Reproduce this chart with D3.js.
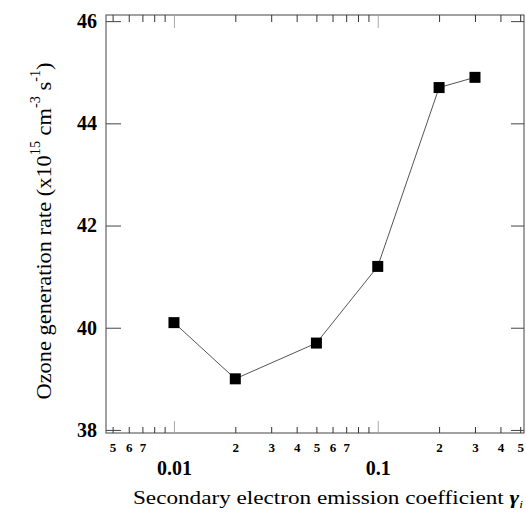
<!DOCTYPE html>
<meta charset="utf-8">
<html>
<head>
    <script src="https://d3js.org/d3.v7.min.js"></script>
    <style>
        body { margin: 0; background: #fff; }
        svg text { font-family: "Liberation Serif", "Times New Roman", Times, serif !important; }
    </style>
</head>
<body>
    <div id="chart"></div>
    <script>
        // data
        const gamma = [0.01, 0.02, 0.05, 0.1, 0.2, 0.3];
        const ozone = [40.1, 39.0, 39.7, 41.2, 44.7, 44.9];

        const yTicks = [38, 40, 42, 44, 46];
        const majorTicks = [0.01, 0.1];
        const minorTicks = [0.005, 0.006, 0.007, 0.008, 0.009,
            0.02, 0.03, 0.04, 0.05, 0.06, 0.07, 0.08, 0.09,
            0.2, 0.3, 0.4, 0.5];
        const minorLabels = { 0.005: "5", 0.006: "6", 0.007: "7", 0.02: "2", 0.03: "3", 0.04: "4",
            0.05: "5", 0.06: "6", 0.07: "7", 0.2: "2", 0.3: "3", 0.4: "4", 0.5: "5" };

        const W = 526, H = 517;
        const margin = { top: 15, right: 2, bottom: 84, left: 106 },
            width = W - margin.left - margin.right,
            height = H - margin.top - margin.bottom;
        const serif = '"Liberation Serif", "Times New Roman", Times, serif';

        const svg = d3.select("#chart").append("svg")
            .attr("width", W).attr("height", H)
            .append("g")
            .attr("transform", `translate(${margin.left},${margin.top})`);

        const x = d3.scaleLog().domain([0.00464, 0.522]).range([0, width]);
        const y = d3.scaleLinear().domain([37.94, 46.12]).range([height, 0]);

        const data = gamma.map((g, i) => ({ g: g, v: ozone[i] }));

        // frame
        svg.append("rect")
            .attr("width", width).attr("height", height)
            .attr("fill", "none").attr("stroke", "#444").attr("stroke-width", 1);

        function styleAxis(g, color) {
            g.attr("font-family", serif);
            g.select(".domain").remove();
            g.selectAll(".tick line").attr("stroke", color);
        }

        // minor x ticks bottom with small labels
        svg.append("g")
            .attr("transform", `translate(0,${height})`)
            .call(d3.axisBottom(x).tickValues(minorTicks).tickSize(-6).tickPadding(10)
                .tickFormat(d => minorLabels[d] || ""))
            .call(g => styleAxis(g, "#333"))
            .call(g => g.selectAll("text")
                .style("font-size", "13px").style("font-weight", "bold").attr("fill", "#000"));

        // major x ticks bottom
        svg.append("g")
            .attr("transform", `translate(0,${height})`)
            .call(d3.axisBottom(x).tickValues(majorTicks).tickSize(-12).tickPadding(28)
                .tickFormat(d => d === 0.01 ? "0.01" : "0.1"))
            .call(g => styleAxis(g, "#aaa"))
            .call(g => g.selectAll("text")
                .style("font-size", "20px").style("font-weight", "bold").attr("fill", "#000"));

        // top mirrored ticks
        svg.append("g")
            .call(d3.axisTop(x).tickValues(minorTicks).tickSize(-7).tickFormat(""))
            .call(g => styleAxis(g, "#333"));
        svg.append("g")
            .call(d3.axisTop(x).tickValues(majorTicks).tickSize(-13).tickFormat(""))
            .call(g => styleAxis(g, "#aaa"));

        // y axis left
        svg.append("g")
            .call(d3.axisLeft(y).tickValues(yTicks).tickSize(-15).tickPadding(9).tickFormat(d3.format("d")))
            .call(g => styleAxis(g, "#444"))
            .call(g => g.selectAll("text")
                .style("font-size", "20px").style("font-weight", "bold").attr("fill", "#000"));

        // y axis right
        svg.append("g")
            .attr("transform", `translate(${width},0)`)
            .call(d3.axisRight(y).tickValues(yTicks).tickSize(-13).tickFormat(""))
            .call(g => styleAxis(g, "#444"));

        // connecting line
        const line = d3.line().x(d => x(d.g)).y(d => y(d.v));
        svg.append("path")
            .datum(data)
            .attr("d", line)
            .attr("fill", "none")
            .attr("stroke", "#555")
            .attr("stroke-width", 1);

        // square markers
        svg.selectAll("rect.pt").data(data).enter().append("rect")
            .attr("class", "pt")
            .attr("x", d => x(d.g) - 5.5)
            .attr("y", d => y(d.v) - 5.5)
            .attr("width", 11).attr("height", 11)
            .attr("fill", "#000");

        // x axis title (the original looks stretched sideways)
        const xt = svg.append("text")
            .attr("x", 222)
            .attr("y", height + 71)
            .attr("text-anchor", "middle")
            .attr("textLength", 390)
            .attr("lengthAdjust", "spacingAndGlyphs")
            .style("font-family", serif)
            .style("font-size", "19px")
            .attr("fill", "#000");
        xt.append("tspan").text("Secondary electron emission coefficient ");
        xt.append("tspan").style("font-style", "italic").style("font-weight", "bold").text("γ");
        xt.append("tspan").style("font-style", "italic").style("font-size", "11px").attr("dy", 4).text("i");

        // y axis title
        const yt = svg.append("text")
            .attr("transform", `translate(${51 - margin.left},${height / 2 + 7}) rotate(-90)`)
            .attr("text-anchor", "middle")
            .attr("textLength", 337)
            .attr("lengthAdjust", "spacingAndGlyphs")
            .style("font-family", serif)
            .style("font-size", "22px")
            .attr("fill", "#000");
        yt.append("tspan").text("Ozone generation rate (x10");
        yt.append("tspan").style("font-size", "14px").attr("dy", -11).text("15");
        yt.append("tspan").attr("dy", 11).text(" cm");
        yt.append("tspan").style("font-size", "14px").attr("dy", -11).text("-3");
        yt.append("tspan").attr("dy", 11).text(" s");
        yt.append("tspan").style("font-size", "14px").attr("dy", -11).text("-1");
        yt.append("tspan").attr("dy", 11).text(")");
    </script>
</body>
</html>
